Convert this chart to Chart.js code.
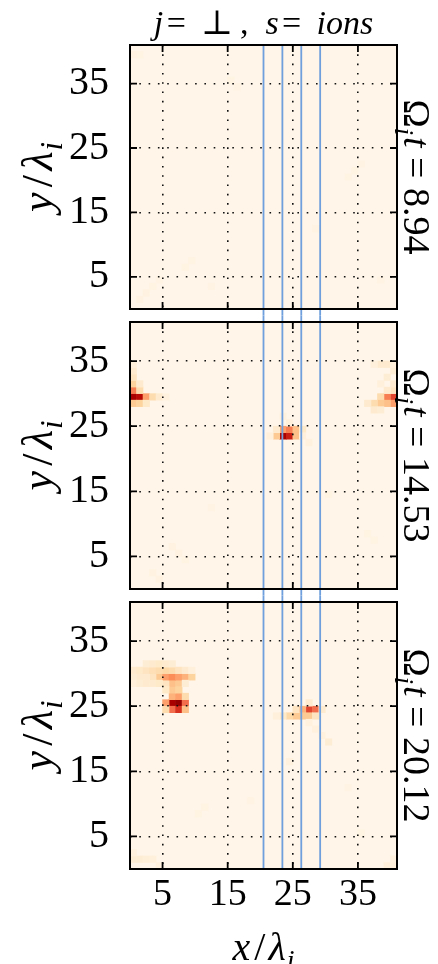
<!DOCTYPE html>
<html>
<head>
<meta charset="utf-8">
<script src="https://cdn.jsdelivr.net/npm/chart.js@4.4.1/dist/chart.umd.min.js"></script>
<style>
  html, body { margin: 0; padding: 0; background: #ffffff; }
  #fig { position: relative; width: 438px; height: 964px; }
  #fig canvas { position: absolute; left: 0; top: 0; }
</style>
</head>
<body>
<div id="fig">
  <canvas id="panel0" width="438" height="964"></canvas>
  <canvas id="panel1" width="438" height="964"></canvas>
  <canvas id="panel2" width="438" height="964"></canvas>
</div>
<script>
// ---- data -------------------------------------------------------------
// box extent, in units of the ion inertial length
const xRange = [0, 41];
const yRange = [0, 41];
const xTicks = [5, 15, 25, 35];
const yTicks = [5, 15, 25, 35];

// Omega_i t of the three snapshots, top to bottom
const snapshotTimes = ['8.94', '14.53', '20.12'];

// x positions of the four vertical cuts
const cutPositions = [20.5, 23.4, 26.3, 29.2];

// normalised current level of the quiet plasma
const backgroundLevel = 0.015;

// cells above the quiet level: [x cell, y cell, normalised value]
const cellsT1 = [
  [1, 1, 0.04], [2, 2, 0.04], [3, 3, 0.035], [4, 4, 0.03], [8, 6, 0.035], [9, 7, 0.035],
  [12, 3, 0.03], [0, 39, 0.04], [1, 39, 0.035], [15, 35, 0.035], [16, 34, 0.03],
  [33, 20, 0.035], [34, 21, 0.035], [35, 22, 0.03], [28, 12, 0.03], [38, 4, 0.03]
];

const cellsT2 = [
  // left edge sheet
  [0, 29, 0.9], [1, 29, 0.85], [2, 29, 0.45], [3, 29, 0.2], [4, 29, 0.1], [5, 29, 0.05],
  [0, 30, 0.55], [0, 31, 0.25], [0, 32, 0.15], [0, 33, 0.1], [0, 34, 0.06],
  [1, 30, 0.2], [1, 31, 0.1], [0, 28, 0.3], [1, 28, 0.25], [2, 28, 0.12],
  // right edge sheet
  [40, 29, 0.7], [39, 29, 0.55], [38, 29, 0.2], [40, 28, 0.45], [39, 28, 0.35],
  [38, 28, 0.3], [37, 28, 0.2], [36, 28, 0.1], [37, 27, 0.1], [38, 27, 0.08],
  [40, 30, 0.15], [39, 30, 0.1], [40, 31, 0.1], [38, 31, 0.06], [39, 32, 0.08],
  [40, 33, 0.08], [38, 34, 0.1], [39, 34, 0.1], [37, 34, 0.06], [40, 34, 0.06],
  // central sheet
  [23, 23, 0.9], [24, 23, 0.8], [22, 23, 0.3], [25, 23, 0.35], [23, 24, 0.45],
  [24, 24, 0.55], [25, 24, 0.35], [26, 24, 0.12], [22, 24, 0.1], [21, 23, 0.06],
  [24, 25, 0.06], [23, 26, 0.05], [26, 23, 0.06], [27, 22, 0.05],
  // weak streaks
  [6, 6, 0.04], [7, 5, 0.04], [8, 4, 0.035], [3, 2, 0.04], [4, 1, 0.04],
  [30, 14, 0.035], [36, 8, 0.035], [37, 7, 0.035], [12, 12, 0.03]
];

const cellsT3 = [
  // left sheet, core
  [6, 25, 0.9], [7, 25, 0.95], [5, 25, 0.45], [8, 25, 0.6], [6, 24, 0.6],
  [7, 24, 0.75], [8, 24, 0.35], [5, 24, 0.2], [6, 26, 0.4], [7, 26, 0.45], [8, 26, 0.2],
  // left sheet, stem and upper band
  [6, 27, 0.3], [6, 28, 0.35], [7, 28, 0.3], [7, 27, 0.25], [5, 28, 0.15], [5, 27, 0.12],
  [4, 29, 0.3], [5, 29, 0.45], [6, 29, 0.5], [7, 29, 0.45], [8, 29, 0.4], [9, 29, 0.25],
  [3, 29, 0.15], [2, 29, 0.1], [1, 29, 0.1], [0, 29, 0.08],
  [0, 30, 0.1], [1, 30, 0.12], [2, 30, 0.15], [3, 30, 0.18], [4, 30, 0.2], [5, 30, 0.22],
  [6, 30, 0.2], [7, 30, 0.15], [8, 30, 0.1], [9, 30, 0.06],
  [2, 31, 0.08], [3, 31, 0.1], [4, 31, 0.12], [5, 31, 0.1], [6, 31, 0.08],
  [0, 28, 0.06], [1, 28, 0.08], [2, 28, 0.1], [3, 28, 0.1], [4, 28, 0.12], [8, 28, 0.08],
  // central sheet
  [27, 24, 0.7], [28, 24, 0.6], [26, 24, 0.4], [26, 23, 0.3], [27, 23, 0.3],
  [25, 23, 0.3], [24, 23, 0.22], [23, 23, 0.12], [22, 23, 0.06], [25, 24, 0.15],
  [28, 23, 0.15], [29, 24, 0.1], [27, 25, 0.1],
  [30, 19, 0.08], [29, 20, 0.05], [27, 22, 0.05], [28, 21, 0.05], [24, 16, 0.05],
  // weak patches near the lower edge
  [0, 1, 0.08], [1, 1, 0.08], [2, 1, 0.07], [3, 1, 0.06], [4, 0, 0.05], [0, 2, 0.05],
  [39, 0, 0.06], [40, 0, 0.06], [40, 1, 0.05],
  [10, 8, 0.035], [11, 9, 0.035], [18, 10, 0.03], [33, 12, 0.03], [35, 5, 0.035]
];

const panelCells = [cellsT1, cellsT2, cellsT3];

// ---- look -------------------------------------------------------------
const ORRD = ['#fff7ec', '#fee8c8', '#fdd49e', '#fdbb84', '#fc8d59',
              '#ef6548', '#d7301f', '#b30000', '#7f0000'];
const SERIF = '"Liberation Serif", "DejaVu Serif", serif';
const CUT_COLOR = '#6f9fdc';
const FIG_W = 438, FIG_H = 964;
const PANEL_TOP = [42, 322, 602];
const PANEL_BOTTOM = [309, 589, 869];
const LEFT_W = 130, RIGHT_W = 41, XAXIS_H = 95;

function hexToRgb(h) {
  const n = parseInt(h.slice(1), 16);
  return [(n >> 16) & 255, (n >> 8) & 255, n & 255];
}
const ORRD_RGB = ORRD.map(hexToRgb);

function orRd(v) {
  v = Math.max(0, Math.min(1, v));
  const p = v * (ORRD_RGB.length - 1);
  const i = Math.min(Math.floor(p), ORRD_RGB.length - 2);
  const f = p - i;
  const a = ORRD_RGB[i], b = ORRD_RGB[i + 1];
  const c = a.map((ai, k) => Math.round(ai + (b[k] - ai) * f));
  return `rgb(${c[0]},${c[1]},${c[2]})`;
}

// one data unit in pixels, turned into a 'rect' point radius
function cellRadius(chart) {
  const sx = chart.scales.x;
  const w = Math.abs(sx.getPixelForValue(1) - sx.getPixelForValue(0));
  return (w + 0.6) / Math.SQRT2;
}

// text made of runs (italic, subscript, extra gap in em)
function drawRuns(ctx, runs, cx, cy, rot, size) {
  ctx.save();
  ctx.translate(cx, cy);
  ctx.rotate(rot);
  ctx.textAlign = 'left';
  ctx.textBaseline = 'alphabetic';
  ctx.fillStyle = '#000';
  let total = 0;
  const parts = runs.map(r => {
    const s = size * (r.sub ? 0.7 : 1);
    const font = `${r.it ? 'italic ' : ''}${s}px ${SERIF}`;
    ctx.font = font;
    const w = ctx.measureText(r.t).width;
    const g = (r.gap || 0) * size;
    total += g + w;
    return { r, font, w, g };
  });
  let x = -total / 2;
  const base = size * 0.32;
  for (const p of parts) {
    x += p.g;
    ctx.font = p.font;
    ctx.fillText(p.r.t, x, base + (p.r.sub ? size * 0.22 : 0));
    x += p.w;
  }
  ctx.restore();
}

const headerRuns = [
  { t: 'j', it: 1 }, { t: '=', gap: 0.1 }, { t: '\u22A5', gap: 0.45 }, { t: ',', gap: 0.2 },
  { t: 's', it: 1, gap: 0.5 }, { t: '=', gap: 0.1 }, { t: 'ions', it: 1, gap: 0.45 }
];
const yTitleRuns = [{ t: 'y', it: 1 }, { t: '/', gap: 0.12 }, { t: '\u03BB', it: 1, gap: 0.1 }, { t: 'i', it: 1, sub: 1, gap: 0.02 }];
const xTitleRuns = [{ t: 'x', it: 1 }, { t: '/', gap: 0.1 }, { t: '\u03BB', it: 1, gap: 0.08 }, { t: 'i', it: 1, sub: 1, gap: 0.02 }];
const timeRuns = v => [{ t: '\u03A9' }, { t: 'i', it: 1, sub: 1 }, { t: 't', it: 1, gap: 0.05 },
                       { t: '=', gap: 0.25 }, { t: v, gap: 0.25 }];

// quiet level under the cells
const fieldBackground = {
  id: 'fieldBackground',
  beforeDraw(chart) {
    const { ctx, chartArea: a } = chart;
    ctx.save();
    ctx.fillStyle = orRd(backgroundLevel);
    ctx.fillRect(a.left, a.top, a.right - a.left, a.bottom - a.top);
    ctx.restore();
  }
};

// frame, inward tick marks and the math labels
const panelDecor = {
  id: 'panelDecor',
  afterDraw(chart, args, opts) {
    const { ctx, chartArea: a } = chart;
    const sx = chart.scales.x, sy = chart.scales.y;
    const k = opts.index;
    ctx.save();
    ctx.strokeStyle = '#000';
    ctx.lineWidth = 1.8;
    ctx.beginPath();
    for (const v of xTicks) {
      const px = sx.getPixelForValue(v);
      ctx.moveTo(px, a.top); ctx.lineTo(px, a.top + 7);
      ctx.moveTo(px, a.bottom); ctx.lineTo(px, a.bottom - 7);
    }
    for (const v of yTicks) {
      const py = sy.getPixelForValue(v);
      ctx.moveTo(a.left, py); ctx.lineTo(a.left + 7, py);
      ctx.moveTo(a.right, py); ctx.lineTo(a.right - 7, py);
    }
    ctx.stroke();
    ctx.lineWidth = 2;
    ctx.strokeRect(a.left, a.top, a.right - a.left, a.bottom - a.top);
    ctx.restore();

    const midY = (a.top + a.bottom) / 2;
    const midX = (a.left + a.right) / 2;
    drawRuns(ctx, yTitleRuns, 38, midY, -Math.PI / 2, 44);
    drawRuns(ctx, timeRuns(snapshotTimes[k]), a.right + 19, midY, Math.PI / 2, 38);
    if (k === 0) drawRuns(ctx, headerRuns, midX, a.top - 22, 0, 34);
    if (k === 2) drawRuns(ctx, xTitleRuns, midX, a.bottom + 78, 0, 40);
  }
};

function makePanel(k) {
  const last = k === 2;
  const heat = {
    type: 'scatter',
    data: panelCells[k].map(([x, y, v]) => ({ x: x + 0.5, y: y + 0.5, v })),
    pointStyle: 'rect',
    pointRadius: ctx => cellRadius(ctx.chart),
    pointHoverRadius: ctx => cellRadius(ctx.chart),
    pointBackgroundColor: ctx => orRd(ctx.raw ? ctx.raw.v : backgroundLevel),
    pointBorderWidth: 0,
    order: 2
  };
  // cuts run through the gaps between panels (one unit above/below)
  const below = last ? 0 : 1;
  const above = k === 0 ? 0 : 1;
  const cuts = cutPositions.map(c => ({
    type: 'line',
    data: [{ x: c, y: yRange[0] - below }, { x: c, y: yRange[1] + above }],
    borderColor: CUT_COLOR,
    borderWidth: 1.8,
    pointRadius: 0,
    fill: false,
    clip: false,
    order: 1
  }));

  return new Chart(document.getElementById('panel' + k), {
    type: 'scatter',
    data: { datasets: [heat, ...cuts] },
    options: {
      responsive: false,
      animation: false,
      events: [],
      layout: {
        padding: {
          top: PANEL_TOP[k],
          bottom: FIG_H - PANEL_BOTTOM[k] - (last ? XAXIS_H : 0),
          left: 0,
          right: RIGHT_W
        }
      },
      scales: {
        x: {
          type: 'linear',
          min: xRange[0],
          max: xRange[1],
          afterBuildTicks: s => { s.ticks = xTicks.map(v => ({ value: v })); },
          afterFit: s => { s.height = last ? XAXIS_H : 0; },
          grid: { color: '#111', lineWidth: 1.6, drawTicks: false, z: 1 },
          border: { display: false, dash: [1.6, 7.7] },
          ticks: {
            display: last,
            padding: 3,
            color: '#000',
            maxRotation: 0,
            autoSkip: false,
            font: { family: SERIF, size: 38 }
          }
        },
        y: {
          type: 'linear',
          min: yRange[0],
          max: yRange[1],
          afterBuildTicks: s => { s.ticks = yTicks.map(v => ({ value: v })); },
          afterFit: s => { s.width = LEFT_W; },
          grid: { color: '#111', lineWidth: 1.6, drawTicks: false, z: 1 },
          border: { display: false, dash: [1.6, 7.7] },
          ticks: {
            padding: 21,
            color: '#000',
            font: { family: SERIF, size: 40 }
          }
        }
      },
      plugins: {
        legend: { display: false },
        tooltip: { enabled: false },
        panelDecor: { index: k }
      }
    },
    plugins: [fieldBackground, panelDecor]
  });
}

[0, 1, 2].forEach(makePanel);
</script>
</body>
</html>
